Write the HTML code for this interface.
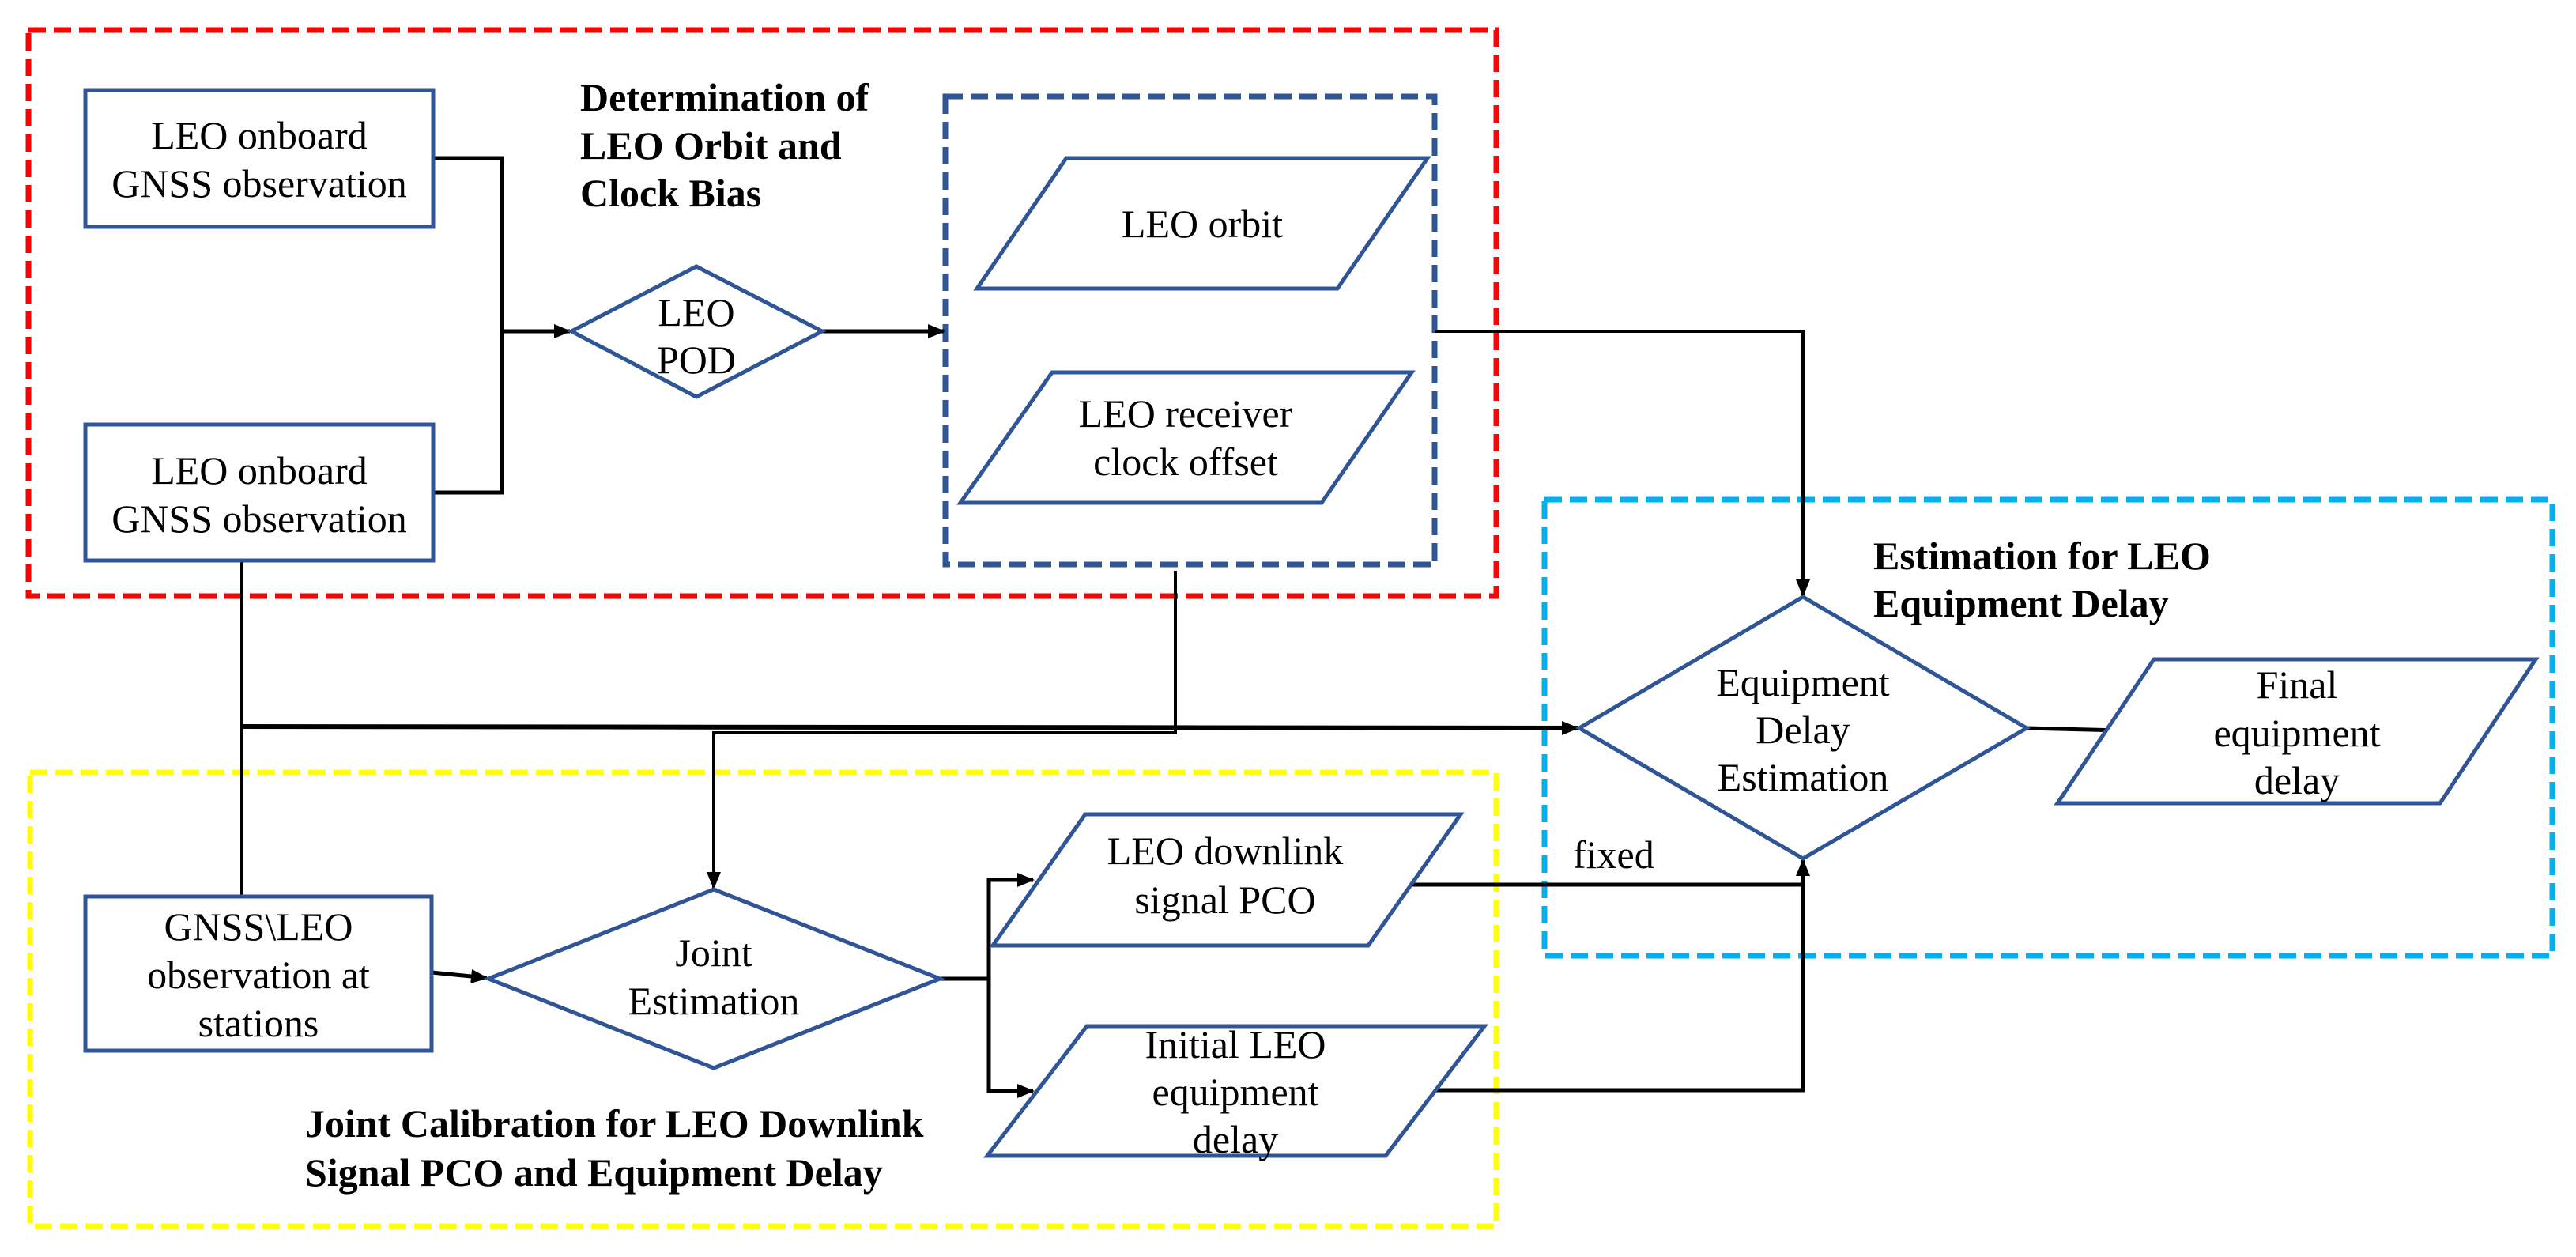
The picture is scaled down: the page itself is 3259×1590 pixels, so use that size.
<!DOCTYPE html>
<html><head><meta charset="utf-8"><style>html,body{margin:0;padding:0;background:#fff}svg{display:block}svg text{font-family:"Liberation Serif","Times New Roman",serif}</style></head><body>
<svg width="3259" height="1590" viewBox="0 0 3259 1590" xmlns="http://www.w3.org/2000/svg">
<defs>
<marker id="b" markerWidth="22" markerHeight="22" refX="20" refY="11" orient="auto" markerUnits="userSpaceOnUse" viewBox="0 0 22 22"><path d="M0,2 L22,11 L0,20 z" fill="#000"/></marker>
</defs>
<rect x="36" y="38" width="1857" height="716" fill="none" stroke="#ff0000" stroke-width="7" stroke-dasharray="22,10"/>
<rect x="38" y="977" width="1855" height="574" fill="none" stroke="#ffff00" stroke-width="7" stroke-dasharray="22,10"/>
<rect x="1954" y="632" width="1275" height="577" fill="none" stroke="#00b0f0" stroke-width="7" stroke-dasharray="22,10"/>
<rect x="1196" y="122" width="619" height="592" fill="none" stroke="#2f5597" stroke-width="7" stroke-dasharray="22,10"/>

<g fill="none" stroke="#000" stroke-width="5">
<polyline points="548,200 635,200 635,623 548,623"/>
<line x1="635" y1="419" x2="721" y2="419" marker-end="url(#b)"/>
<line x1="1040" y1="419" x2="1194" y2="419" marker-end="url(#b)"/>
<polyline points="1815,419 2281,419 2281,753" stroke-width="4" marker-end="url(#b)"/>
<line x1="306" y1="709" x2="306" y2="1134" stroke-width="4"/>
<line x1="306" y1="919" x2="1996" y2="921" stroke-width="6" marker-end="url(#b)"/>
<polyline points="1487,722 1487,927 903,927 903,1123" stroke-width="4" marker-end="url(#b)"/>
<line x1="546" y1="1230" x2="616" y2="1237" marker-end="url(#b)"/>
<polyline points="1189,1238 1251,1238"/>
<polyline points="1305,1113 1251,1113 1251,1380 1305,1380" />
<line x1="1251" y1="1113" x2="1307" y2="1113" marker-end="url(#b)"/>
<line x1="1251" y1="1380" x2="1307" y2="1380" marker-end="url(#b)"/>
<polyline points="1786,1119 2281,1119"/>
<polyline points="1816,1379 2281,1379 2281,1088" marker-end="url(#b)"/>
<line x1="2564" y1="921" x2="2723" y2="925" marker-end="url(#b)"/>
</g>

<g fill="#fff" stroke="#2f5597" stroke-width="5">
<rect x="108" y="114" width="440" height="173"/>
<rect x="108" y="537" width="440" height="172"/>
<rect x="108" y="1134" width="438" height="195"/>
<polygon points="881,337 1040,419 881,502 723,419"/>
<polygon points="1349,200 1806,200 1692,365 1236,365"/>
<polygon points="1331,471 1786,471 1672,636 1215,636"/>
<polygon points="903,1125 1189,1238 903,1351 618,1238"/>
<polygon points="1373,1030 1848,1030 1731,1196 1256,1196"/>
<polygon points="1375,1298 1878,1298 1753,1462 1249,1462"/>
<polygon points="2281,755 2564,921 2281,1086 1998,921"/>
<polygon points="2725,834 3208,834 3087,1016 2603,1016"/>
</g>

<g font-size="50" text-anchor="middle" fill="#000">
<text x="328" y="188">LEO onboard</text>
<text x="328" y="249">GNSS observation</text>
<text x="328" y="612">LEO onboard</text>
<text x="328" y="673">GNSS observation</text>
<text x="881" y="412">LEO</text>
<text x="881" y="472">POD</text>
<text x="1521" y="300">LEO orbit</text>
<text x="1500" y="540">LEO receiver</text>
<text x="1500" y="601">clock offset</text>
<text x="327" y="1189">GNSS\LEO</text>
<text x="327" y="1250">observation at</text>
<text x="327" y="1311">stations</text>
<text x="903" y="1222">Joint</text>
<text x="903" y="1283">Estimation</text>
<text x="1550" y="1093">LEO downlink</text>
<text x="1550" y="1155">signal PCO</text>
<text x="1563" y="1338">Initial LEO</text>
<text x="1563" y="1398">equipment</text>
<text x="1563" y="1458">delay</text>
<text x="2281" y="880">Equipment</text>
<text x="2281" y="940">Delay</text>
<text x="2281" y="1000">Estimation</text>
<text x="2906" y="883">Final</text>
<text x="2906" y="944">equipment</text>
<text x="2906" y="1004">delay</text>
<text x="1990" y="1098" text-anchor="start">fixed</text>
</g>
<g font-size="50" font-weight="bold" fill="#000">
<text x="734" y="140">Determination of</text>
<text x="734" y="201">LEO Orbit and</text>
<text x="734" y="261">Clock Bias</text>
<text x="2370" y="720">Estimation for LEO</text>
<text x="2370" y="780">Equipment Delay</text>
<text x="386" y="1438">Joint Calibration for LEO Downlink</text>
<text x="386" y="1500">Signal PCO and Equipment Delay</text>
</g>
</svg>
</body></html>
